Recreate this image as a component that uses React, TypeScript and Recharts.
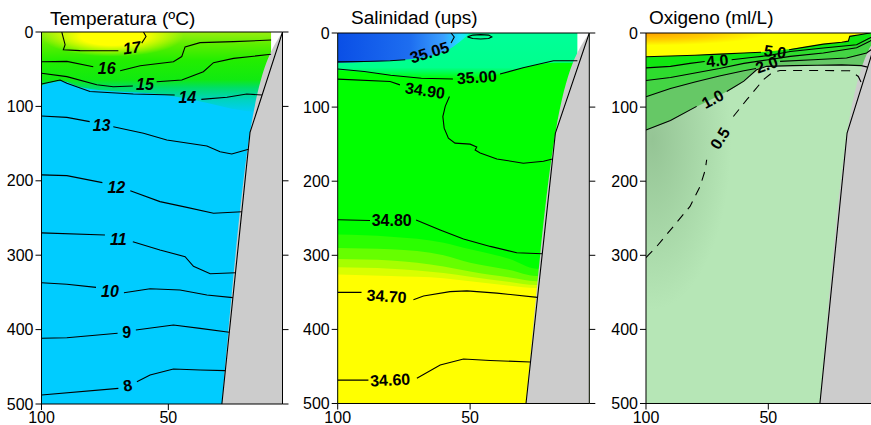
import React from 'react'
import { ComposedChart, Area, Line, XAxis, YAxis, ReferenceDot, ReferenceLine } from 'recharts'

type P = [number, number]
type R = [number, number, number]
type Lab = [string, number, number, number, boolean?]

const FONT = "'Liberation Sans', Arial, Helvetica, sans-serif"

const depthTicks = [0, 100, 200, 300, 400, 500]
const distTicks = [100, 50]

// sea floor (distance, depth) and the coastal strip without data
const slope: P[] = [[28.9, 500], [17.8, 135], [5, 0]]
const rock: R[] = [[28.9, 500, 500], [17.8, 135, 500], [5, 0, 500]]
const noData: R[] = [[9.5, 0, 47.5], [5, 0, 0]]
const full: R[] = [[100, 0, 500], [5, 0, 500]]

// ---- Temperatura ----
const tWarm: R[] = [[100, 0, 72], [92, 0, 66], [85, 0, 74], [70, 0, 80], [55, 0, 83], [45, 0, 88], [35, 0, 95], [25, 0, 103], [15, 0, 108], [5, 0, 110]]
const tSun: R[] = [[100, 0, 55], [44, 0, 55]]

const t17: P[][] = [[[92, 0], [90.7, 17], [91.4, 24], [84.8, 25], [69.7, 25.3]], [[60.5, 15], [58.8, 6], [59.8, 0]]]
const t16: P[][] = [[[100, 40], [90, 39.5], [79.6, 46.6]], [[69, 52], [61.1, 45.3], [48, 40], [44.7, 33], [43.4, 20], [37.5, 14.3], [24.3, 13], [9.5, 10.8]]]
const t15: P[][] = [[[100, 55.5], [90, 60], [78.2, 71], [71.7, 73.5], [64, 72.6]], [[54.6, 66.8], [44.7, 64.5], [36.2, 53.3], [32.2, 41.2], [24.3, 35.4], [9.5, 30]]]
const t14: P[][] = [[[100, 70], [92.7, 64.5], [90, 69], [80.9, 80], [63.8, 83.3], [47.5, 84.7]], [[37, 90.5], [26.9, 87.8], [19.1, 83.3], [13.1, 84.7]]]
const t13: P[][] = [[[100, 113], [90, 114.7], [81, 120.5]], [[71.7, 127.3], [59.8, 136.2], [50.6, 145.2], [34.8, 153.2], [29.6, 160.9], [25, 164], [18.4, 157.7]]]
const t12: P[][] = [[[100, 192], [90, 193], [76, 202.5]], [[65, 213.3], [53.3, 228], [42.7, 235.7], [32.2, 243.7], [21, 241.5]]]
const t11: P[][] = [[[100, 270], [75, 272.8]], [[64, 281.8], [53.3, 293], [43.4, 302], [40.1, 315], [33.5, 325], [23.4, 323.5]]]
const t10: P[][] = [[[100, 337], [90, 339], [78.5, 343.2]], [[67.5, 350.4], [57.2, 345], [45.4, 346.8], [34.8, 353.5], [24.6, 357]]]
const t9: P[][] = [[[100, 411.7], [90, 411], [70, 405]], [[62.8, 400.5], [48, 393.8], [37.5, 398.3], [26, 403.6]]]
const t8: P[][] = [[[100, 488], [69.7, 479]], [[62.4, 470], [57.2, 461], [48, 453], [37.5, 454.3], [27.5, 455.2]]]
const tempLabels: Lab[] = [
  ['17', 64.4, 21, -8, true], ['16', 74.3, 48.5, 0, true], ['15', 59.2, 70, 0, true], ['14', 42.5, 88, 0, true],
  ['13', 76.3, 125, 0, true], ['12', 70.5, 208, 0, true], ['11', 69.7, 278, 0, true], ['10', 73, 348, 0, true],
  ['9', 66.4, 403, 0, false], ['8', 66, 475, -10, false],
]

// ---- Salinidad ----
const sMint: R[] = [[100, 0, 50], [90, 0, 53], [80, 0, 57], [68, 0, 62], [60, 0, 62], [50, 0, 60], [38, 0, 55], [30, 0, 47], [18, 0, 40], [5, 0, 40]]
const sBlue: R[] = [[100, 0, 40], [90, 0, 39], [80, 0, 37.5], [72, 0, 35], [64, 0, 30], [58, 0, 22], [54, 0, 12], [51, 0, 3], [50, 0, 0]]
const sBand1: R[] = [[100, 272, 500], [80, 275, 500], [60, 283, 500], [50, 292, 500], [35, 305, 500], [25, 318, 500], [5, 318, 500]]
const sBand2: R[] = [[100, 290, 500], [80, 292, 500], [60, 300, 500], [50, 310, 500], [35, 320, 500], [25, 328, 500], [5, 328, 500]]
const sBand3: R[] = [[100, 305, 500], [80, 307, 500], [60, 315, 500], [50, 322, 500], [35, 330, 500], [25, 335, 500], [5, 335, 500]]
const sBand4: R[] = [[100, 316, 500], [80, 318, 500], [60, 324, 500], [50, 329, 500], [35, 336, 500], [25, 340, 500], [5, 340, 500]]
const sYellow: R[] = [[100, 326, 500], [80, 328, 500], [60, 331, 500], [50, 335, 500], [35, 341, 500], [25, 344, 500], [5, 344, 500]]

const s3505: P[][] = [[[100, 39], [90, 38.5], [80.2, 37.4], [74.5, 36]], [[57.2, 13.5], [56, 5.4], [57.2, 0]]]
const s3505b: P[][] = [[[51, 5.2], [49, 2.8], [46, 2.2], [43, 2.8], [41.8, 5.2], [43, 7.4], [46, 8.1], [49, 7.4], [51, 5.2]]]
const s3500: P[][] = [[[100, 48.6], [90, 52], [80, 57], [68.4, 61], [56.5, 62]], [[38.7, 55.3], [30, 47], [18.5, 37.4], [9.5, 37.4]]]
const s3490: P[][] = [
  [[100, 62.2], [80.2, 65.4], [76.5, 70]],
  [[57.8, 85.6], [59.4, 99], [60.3, 112.7], [59.8, 128.4], [58.2, 142], [55.7, 148.6], [50, 150], [47.5, 154], [48.1, 158], [46.2, 162], [39.9, 170], [29.9, 175.7], [22.3, 173], [18.9, 170]],
]
const s3480: P[][] = [[[100, 252], [87.8, 253]], [[70.4, 252.5], [61.3, 265.8], [52.5, 278], [42.4, 288], [32.4, 296.5], [22.8, 298]]]
const s3470: P[][] = [[[100, 350], [91, 350]], [[71.4, 360], [67.6, 355], [57.6, 349], [51.2, 348], [39.9, 351], [24.6, 356.8]]]
const s3460: P[][] = [[[100, 468.5], [88.4, 468.5]], [[70.1, 466], [61.3, 448], [52.5, 440], [42.4, 442], [27.2, 444]]]
const salLabels: Lab[] = [
  ['35.05', 65.4, 26, -17], ['35.00', 47.5, 59.5, -4], ['34.90', 67, 77.5, 8],
  ['34.80', 79.6, 252.5, 0], ['34.70', 81.5, 355, 4], ['34.60', 80.2, 468, -3],
]

// ---- Oxigeno ----
const oB10: R[] = [[100, 0, 131], [90, 0, 118], [79, 0, 99], [67, 0, 79], [60, 0, 65], [55, 0, 50], [50, 0, 45], [30, 0, 43.5], [12, 0, 44], [5, 0, 46]]
const oB20: R[] = [[100, 0, 86], [90, 0, 75], [80, 0, 66], [70, 0, 58], [60, 0, 51], [50, 0, 43], [45, 0, 38.3], [31.6, 0, 36], [18, 0, 33.8], [9.8, 0, 27], [5, 0, 20]]
const oB30: R[] = [[100, 0, 64], [90, 0, 60], [80, 0, 54], [70, 0, 48], [60, 0, 41], [50, 0, 36], [41, 0, 31.5], [27.5, 0, 27], [13.9, 0, 20], [8.5, 0, 11], [5, 0, 8]]
const oB40: R[] = [[100, 0, 47], [90, 0, 45], [82, 0, 41], [70, 0, 37], [57, 0, 33], [50, 0, 30.5], [41, 0, 25], [27.5, 0, 20.3], [13.9, 0, 15.8], [8.5, 0, 6.8], [5, 0, 4]]
const oB50: R[] = [[100, 0, 32], [90, 0, 31], [80, 0, 30], [70, 0, 28.5], [60, 0, 27], [47, 0, 24], [35, 0, 19], [27.5, 0, 15], [20, 0, 12.5], [17.3, 0, 11], [16.7, 0, 4.5], [12, 0, 2], [8.5, 0, 0], [5, 0, 0]]
const oShade: R[] = [[100, 70, 440], [48, 70, 440]]

const o50: P[][] = [[[100, 32], [90, 31], [80, 30], [70, 28.5], [60, 27], [53, 26]], [[41.5, 22.5], [35, 19], [27.5, 15], [20, 12.5], [17.3, 11], [16.7, 4.5], [12, 2], [8.5, 0]]]
const o40: P[][] = [[[100, 47], [90, 45], [82, 41], [76, 38.5]], [[65, 36], [57, 33], [50, 30.5], [41, 25], [27.5, 20.3], [13.9, 15.8], [8.5, 6.8], [7, 4]]]
const o30: P[][] = [[[100, 64], [90, 60], [80, 54], [70, 48], [60, 41], [50, 36], [41, 31.5], [27.5, 27], [13.9, 20], [8.5, 11], [7, 8]]]
const o20: P[][] = [[[100, 86], [90, 75], [80, 66], [70, 58], [60, 51], [55, 48]], [[45.2, 38.3], [31.6, 36], [18, 33.8], [9.8, 27], [7, 20]]]
const o10: P[][] = [[[100, 131], [90, 118], [79.3, 99]], [[67, 79], [60, 65], [54.8, 49.6], [50.7, 45], [40, 44], [30, 43.5], [20, 43], [12, 44], [9.4, 46]]]
const o05: P[][] = [
  [[100, 303], [95.6, 288], [88.8, 261], [82, 234], [77.9, 207], [75.8, 185], [75.2, 171]],
  [[64.3, 112.7], [58.8, 90], [52, 63], [48.6, 54], [45.2, 50.5], [31.6, 50.5], [16.7, 51], [13.2, 58.6], [11.9, 67.6]],
]
const oxyLabels: Lab[] = [
  ['5.0', 47.2, 25, 8], ['4.0', 70.8, 37, -5], ['2.0', 50.7, 42.7, -20], ['1.0', 72.8, 89, -28], ['0.5', 69.8, 142, -58],
]

const rng = (rows: R[]) => rows.map(([v, a, b]) => ({ v, r: [a, b] }))
const pts = (rows: P[]) => rows.map(([v, d]) => ({ v, d }))

const fillArea = (rows: R[], fill: string, key: string) => (
  <Area key={key} data={rng(rows)} dataKey="r" type="monotone" fill={fill} fillOpacity={1} stroke="none"
    dot={false} activeDot={false} isAnimationActive={false} />
)

const contour = (segs: P[][], key: string, dash?: string) => segs.map((s, i) => (
  <Line key={key + i} data={pts(s)} dataKey="d" type="linear" stroke="#000" strokeWidth={1.1}
    strokeDasharray={dash} dot={false} activeDot={false} isAnimationActive={false} />
))

const labels = (list: Lab[], key: string) => list.map(([t, v, d, a, it]) => (
  <ReferenceDot key={key + t} x={v} y={d} r={0} ifOverflow="visible"
    shape={(p: any) => (
      <text x={p.cx} y={p.cy} dy="0.36em" textAnchor="middle" transform={`rotate(${a} ${p.cx} ${p.cy})`}
        fontSize={16} fontWeight="bold" fontStyle={it ? 'italic' : 'normal'} fontFamily={FONT} fill="#000">{t}</text>
    )} />
))

const coast = (withGap: boolean, key: string) => [
  withGap ? fillArea(noData, '#ffffff', key + 'gap') : null,
  fillArea(rock, '#cccccc', key + 'rock'),
  ...contour([slope], key + 'slope'),
]

const tick = { fontSize: 16, fill: '#000', fontFamily: FONT }
const noLabel = () => <g />

function Panel({ left, width, top, bottom, axisW, title, titleX, children }: any) {
  return (
    <div style={{ position: 'absolute', left, top: 0 }}>
      <ComposedChart width={width} height={425} margin={{ top, right: 7.5, bottom: 425 - bottom - 20, left: 0 }}>
        <text x={titleX} y={24.5} fontSize={19} fontFamily={FONT} fill="#000">{title}</text>
        <XAxis type="number" dataKey="v" domain={[5, 100]} reversed allowDataOverflow ticks={distTicks} interval={0}
          height={20} tick={tick} tickLine={{ stroke: '#000' }} axisLine={{ stroke: '#000' }} />
        <YAxis type="number" domain={[0, 500]} reversed allowDataOverflow ticks={depthTicks} interval={0}
          width={axisW} tick={tick} tickLine={{ stroke: '#000' }} axisLine={{ stroke: '#000' }} />
        <YAxis yAxisId="r" orientation="right" type="number" domain={[0, 500]} reversed allowDataOverflow ticks={depthTicks}
          interval={0} width={10} tick={noLabel} tickLine={{ stroke: '#000' }} axisLine={{ stroke: '#000' }} />
        {children}
        <ReferenceLine y={0} stroke="#000" />
      </ComposedChart>
    </div>
  )
}

export default function App() {
  return (
    <div style={{ position: 'fixed', left: 0, top: 0, width: 871, height: 425, overflow: 'hidden', background: '#fff' }}>
      <Panel left={0} width={300} top={32} bottom={404} axisW={41.5} title="Temperatura (ºC)" titleX={50}>
        <defs>
          <linearGradient id="tWarmG" x1="0" y1="0" x2="0" y2="1">
            <stop offset="0" stopColor="#99ee11" />
            <stop offset="0.15" stopColor="#5cee00" />
            <stop offset="0.35" stopColor="#22ee00" />
            <stop offset="0.58" stopColor="#11ea10" />
            <stop offset="0.68" stopColor="#00de66" />
            <stop offset="0.82" stopColor="#00d4bb" />
            <stop offset="1" stopColor="#00ccff" />
          </linearGradient>
          <radialGradient id="tSunG" cx="0.5" cy="0.1" r="0.5">
            <stop offset="0" stopColor="#ffff00" stopOpacity={1} />
            <stop offset="0.45" stopColor="#ffff00" stopOpacity={1} />
            <stop offset="1" stopColor="#ffff00" stopOpacity={0} />
          </radialGradient>
        </defs>
        {fillArea(full, '#00ccff', 'tbase')}
        {fillArea(tWarm, 'url(#tWarmG)', 'twarm')}
        {fillArea(tSun, 'url(#tSunG)', 'tsun')}
        {[t17, t16, t15, t14, t13, t12, t11, t10, t9, t8].map((c, i) => contour(c, 't' + i))}
        {coast(true, 'tc')}
        {labels(tempLabels, 'tl')}
      </Panel>
      <Panel left={296} width={310.8} top={33} bottom={403.5} axisW={41.7} title="Salinidad (ups)" titleX={55}>
        <defs>
          <linearGradient id="sMintG" x1="0" y1="0" x2="0" y2="1">
            <stop offset="0" stopColor="#00ff99" />
            <stop offset="0.75" stopColor="#00ff8c" />
            <stop offset="1" stopColor="#00ff00" />
          </linearGradient>
          <linearGradient id="sBlueG" x1="0" y1="0" x2="1" y2="0">
            <stop offset="0" stopColor="#0a4fe6" />
            <stop offset="0.55" stopColor="#1e6ef0" />
            <stop offset="0.8" stopColor="#3aa0ff" />
            <stop offset="0.92" stopColor="#22ddff" />
            <stop offset="1" stopColor="#00ffdd" />
          </linearGradient>
        </defs>
        {fillArea(full, '#00ff00', 'sbase')}
        {fillArea(sMint, 'url(#sMintG)', 'smint')}
        {fillArea(sBlue, 'url(#sBlueG)', 'sblue')}
        {fillArea(sBand1, '#2bff00', 'sb1')}
        {fillArea(sBand2, '#66ff00', 'sb2')}
        {fillArea(sBand3, '#a6ff00', 'sb3')}
        {fillArea(sBand4, '#d9ff00', 'sb4')}
        {fillArea(sYellow, '#ffff00', 'sy')}
        {[s3505, s3505b, s3500, s3490, s3480, s3470, s3460].map((c, i) => contour(c, 's' + i))}
        {coast(true, 'sc')}
        {labels(salLabels, 'sl')}
      </Panel>
      <Panel left={604} width={291.9} top={33} bottom={403.5} axisW={42} title="Oxigeno (ml/L)" titleX={45}>
        <defs>
          <radialGradient id="oTopG" cx="0" cy="0" r="0.7">
            <stop offset="0" stopColor="#ffa000" />
            <stop offset="0.4" stopColor="#ffcc00" />
            <stop offset="0.75" stopColor="#ffff00" />
            <stop offset="1" stopColor="#ffff00" />
          </radialGradient>
          <radialGradient id="oShadeG" cx="0.05" cy="0.2" r="0.62">
            <stop offset="0" stopColor="#7fae7f" stopOpacity={0.6} />
            <stop offset="0.5" stopColor="#7fae7f" stopOpacity={0.3} />
            <stop offset="1" stopColor="#7fae7f" stopOpacity={0} />
          </radialGradient>
        </defs>
        {fillArea(full, '#b6e6b6', 'obase')}
        {fillArea(oShade, 'url(#oShadeG)', 'oshade')}
        {fillArea(oB10, '#66c866', 'ob10')}
        {fillArea(oB20, '#44d444', 'ob20')}
        {fillArea(oB30, '#2edc2e', 'ob30')}
        {fillArea(oB40, '#11e611', 'ob40')}
        {fillArea(oB50, 'url(#oTopG)', 'ob50')}
        {[o50, o40, o30, o20, o10].map((c, i) => contour(c, 'o' + i))}
        {contour(o05, 'o05', '9 7')}
        {coast(false, 'oc')}
        {labels(oxyLabels, 'ol')}
      </Panel>
    </div>
  )
}
